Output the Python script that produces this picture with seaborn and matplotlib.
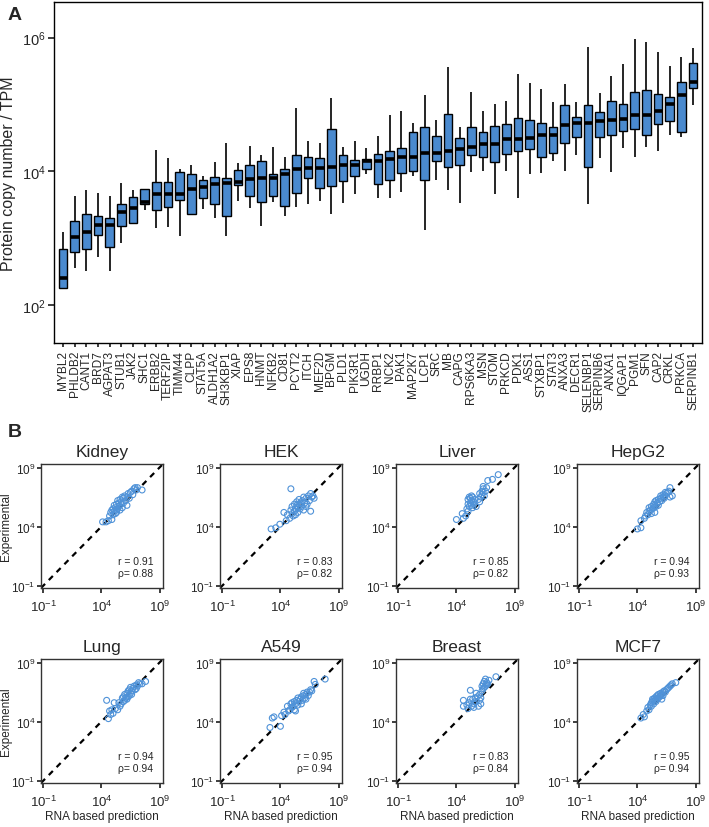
import numpy as np
import pandas as pd
import matplotlib
matplotlib.use("Agg")
import matplotlib.pyplot as plt
import seaborn as sns

# ---- panel A: per-gene box statistics (log10 of copy number / TPM)
genes = ["MYBL2", "PHLDB2", "CANT1", "BRD7", "AGPAT3", "STUB1", "JAK2", "SHC1",
         "ERBB2", "TERF2IP", "TIMM44", "CLPP", "STAT5A", "ALDH1A2", "SH3KBP1",
         "XIAP", "EPS8", "HNMT", "NFKB2", "CD81", "PCYT2", "ITCH", "MEF2D",
         "BPGM", "PLD1", "PIK3R1", "UGDH", "RRBP1", "NCK2", "PAK1", "MAP2K7",
         "LCP1", "SRC", "MB", "CAPG", "RPS6KA3", "MSN", "STOM", "PRKCD", "PDK1",
         "ASS1", "STXBP1", "STAT3", "ANXA3", "DECR1", "SELENBP1", "SERPINB6",
         "ANXA1", "IQGAP1", "PGM1", "SFN", "CAP2", "CRKL", "PRKCA", "SERPINB1"]
whisk_lo = [2.24, 2.56, 2.51, 2.73, 2.51, 2.94, 3.23, 3.43, 3.15, 3.17, 3.03,
            3.35, 3.44, 3.31, 3.03, 3.56, 3.46, 3.18, 3.54, 3.33, 3.47, 3.51,
            3.56, 3.37, 3.53, 3.66, 3.97, 3.60, 3.61, 3.70, 3.94, 3.12, 3.88,
            3.73, 3.53, 3.99, 4.00, 3.67, 4.01, 3.61, 3.96, 3.98, 4.16, 4.00,
            4.25, 3.51, 4.20, 3.99, 4.35, 4.21, 4.37, 4.31, 4.54, 4.51, 5.00]
q1 = [2.26, 2.80, 2.84, 3.05, 2.88, 3.18, 3.23, 3.51, 3.42, 3.47, 3.57, 3.37,
      3.60, 3.51, 3.34, 3.80, 3.64, 3.55, 3.63, 3.48, 3.68, 3.90, 3.75, 3.79,
      3.86, 3.94, 4.04, 3.81, 3.87, 3.98, 4.00, 3.87, 4.16, 4.06, 4.09, 4.25,
      4.21, 4.14, 4.26, 4.31, 4.34, 4.21, 4.27, 4.42, 4.52, 4.07, 4.52, 4.55,
      4.60, 4.63, 4.55, 4.71, 4.75, 4.59, 5.24]
median = [2.41, 3.02, 3.09, 3.20, 3.20, 3.40, 3.46, 3.55, 3.67, 3.67, 3.67,
          3.74, 3.77, 3.82, 3.83, 3.85, 3.89, 3.90, 3.91, 3.97, 4.03, 4.05,
          4.05, 4.06, 4.09, 4.10, 4.15, 4.15, 4.19, 4.21, 4.22, 4.27, 4.28,
          4.30, 4.34, 4.36, 4.41, 4.41, 4.48, 4.49, 4.50, 4.54, 4.55, 4.69,
          4.72, 4.73, 4.75, 4.77, 4.79, 4.85, 4.85, 4.91, 5.01, 5.14, 5.34]
q3 = [2.84, 3.26, 3.36, 3.34, 3.30, 3.52, 3.62, 3.74, 3.84, 3.85, 3.99, 3.97,
      3.88, 3.92, 3.91, 4.02, 4.10, 4.16, 3.97, 4.04, 4.24, 4.21, 4.20, 4.64,
      4.24, 4.17, 4.18, 4.26, 4.31, 4.35, 4.59, 4.66, 4.53, 4.86, 4.50, 4.67,
      4.59, 4.68, 4.71, 4.80, 4.77, 4.73, 4.67, 5.00, 4.81, 5.00, 4.89, 5.05,
      5.01, 5.18, 5.22, 5.16, 5.11, 5.33, 5.62]
whisk_hi = [3.10, 3.63, 3.73, 3.68, 3.64, 3.83, 3.73, 3.74, 4.32, 4.20, 4.04,
            4.10, 3.94, 4.14, 4.43, 4.12, 4.38, 4.24, 4.36, 4.21, 4.95, 4.45,
            4.42, 5.10, 4.36, 4.46, 4.35, 4.53, 4.85, 4.91, 4.73, 5.14, 4.77,
            5.56, 4.67, 5.19, 4.91, 5.01, 5.05, 5.46, 5.32, 5.23, 5.04, 5.30,
            5.04, 5.86, 5.17, 5.42, 5.60, 5.98, 5.94, 5.79, 5.57, 5.71, 5.84]

# ---- panel B: log10 RNA based prediction (x) vs experimental (y)
tissues = ["Kidney", "HEK", "Liver", "HepG2", "Lung", "A549", "Breast", "MCF7"]
pearson_r = [0.91, 0.83, 0.85, 0.94, 0.94, 0.95, 0.83, 0.95]
spearman_rho = [0.88, 0.82, 0.82, 0.93, 0.94, 0.94, 0.84, 0.94]

kidney_x = [4.1, 4.4, 4.6, 4.7, 4.8, 4.9, 5.0, 5.0, 5.1, 5.1, 5.2, 5.2, 5.3, 5.3,
            5.4, 5.4, 5.5, 5.5, 5.6, 5.6, 5.7, 5.7, 5.8, 5.9, 5.9, 6.0, 6.1, 6.2,
            6.3, 6.4, 6.5, 6.6, 6.7, 6.8, 6.9, 7.0, 7.1, 7.5, 4.9, 5.3, 5.8, 6.2]
kidney_y = [4.4, 4.4, 4.5, 4.9, 5.2, 4.6, 5.5, 5.0, 5.8, 5.3, 5.6, 5.1, 5.9, 5.4,
            6.2, 5.5, 5.7, 6.0, 5.4, 6.3, 5.9, 6.1, 5.6, 6.4, 6.0, 6.6, 6.2, 6.5,
            6.8, 6.4, 6.9, 7.0, 6.7, 7.2, 7.3, 7.1, 7.3, 7.1, 5.4, 5.2, 6.5, 5.8]
hek_x = [3.2, 3.6, 3.95, 4.3, 4.5, 4.6, 4.8, 4.9, 5.0, 5.0, 5.1, 5.2, 5.2, 5.3,
         5.3, 5.4, 5.4, 5.5, 5.5, 5.6, 5.6, 5.7, 5.7, 5.8, 5.9, 6.0, 6.0, 6.1,
         6.2, 6.3, 6.4, 6.5, 6.6, 6.7, 6.8, 6.9, 4.9, 5.8, 6.2, 6.6]
hek_y = [3.8, 3.9, 4.2, 5.2, 4.5, 5.0, 4.7, 5.4, 5.1, 5.7, 4.9, 5.3, 5.9, 5.5,
         5.0, 5.8, 6.1, 5.2, 5.6, 5.9, 6.3, 5.5, 6.0, 5.7, 6.2, 5.4, 6.5, 6.0,
         6.4, 5.9, 6.6, 6.2, 6.8, 6.5, 6.6, 6.4, 7.2, 6.0, 5.7, 5.3]
liver_x = [4.0, 4.6, 4.8, 4.5, 4.9, 5.0, 5.0, 5.1, 5.1, 5.2, 5.2, 5.3, 5.3, 5.4,
           5.4, 5.5, 5.5, 5.6, 5.7, 5.0, 5.3, 5.9, 6.0, 6.1, 6.2, 6.2, 6.3, 6.3,
           6.4, 6.5, 6.6, 6.0, 6.7, 7.1, 7.6, 6.3]
liver_y = [4.6, 4.7, 4.9, 5.1, 5.5, 5.9, 6.3, 5.7, 6.5, 6.0, 6.4, 5.8, 6.2, 6.5,
           5.6, 6.1, 5.9, 6.3, 5.7, 5.3, 6.6, 6.3, 6.8, 6.5, 7.0, 6.7, 7.2, 6.9,
           6.6, 7.0, 7.3, 6.1, 7.9, 8.0, 8.4, 7.4]
hepg2_x = [4.0, 4.3, 4.3, 4.6, 4.7, 4.8, 4.9, 5.0, 5.0, 5.1, 5.2, 5.2, 5.3, 5.4,
           5.4, 5.5, 5.5, 5.6, 5.6, 5.7, 5.8, 5.8, 5.9, 6.0, 6.0, 6.1, 6.2, 6.2,
           6.3, 6.4, 6.4, 6.5, 6.6, 6.7, 6.8, 7.0, 6.8, 5.5]
hepg2_y = [3.8, 3.9, 4.5, 4.7, 4.9, 5.2, 5.0, 5.3, 5.6, 5.4, 5.7, 5.1, 5.5, 5.9,
           5.6, 5.8, 6.1, 5.7, 6.2, 6.0, 5.8, 6.3, 6.1, 6.4, 6.6, 6.2, 6.5, 6.7,
           6.4, 6.6, 6.9, 6.8, 6.9, 7.0, 7.3, 6.6, 6.5, 5.2]
lung_x = [4.45, 4.6, 4.7, 4.8, 4.9, 5.0, 5.2, 5.4, 5.5, 5.6, 5.7, 5.8, 5.9, 6.0,
          6.0, 6.1, 6.2, 6.2, 6.3, 6.3, 6.4, 6.4, 6.5, 6.5, 6.6, 6.7, 6.8, 6.9,
          7.0, 7.1, 7.2, 7.3, 7.5, 7.8, 5.1, 5.9, 6.6, 7.0]
lung_y = [5.8, 4.25, 4.9, 4.6, 5.0, 4.7, 5.1, 5.0, 5.6, 5.3, 5.5, 6.0, 5.7, 5.8,
          6.3, 6.0, 5.9, 6.4, 6.1, 6.6, 6.2, 6.7, 6.4, 6.9, 6.6, 6.8, 7.0, 6.7,
          7.1, 7.0, 7.3, 7.2, 7.2, 7.4, 5.6, 6.1, 6.3, 6.8]
a549_x = [3.1, 3.3, 3.45, 4.0, 4.1, 4.3, 4.4, 4.6, 4.7, 4.8, 4.9, 5.0, 5.0, 5.1,
          5.2, 5.2, 5.3, 5.4, 5.5, 5.5, 5.6, 5.7, 5.8, 5.9, 6.0, 6.0, 6.1, 6.2,
          6.3, 6.4, 6.5, 6.6, 6.7, 6.9, 7.0, 7.85, 5.3, 5.8, 6.2]
a549_y = [3.5, 4.3, 4.4, 3.6, 4.5, 4.8, 4.6, 5.3, 4.9, 5.0, 5.5, 5.2, 5.6, 5.3,
          5.0, 5.7, 5.5, 5.8, 5.4, 6.0, 5.7, 5.9, 6.1, 5.8, 6.2, 6.4, 6.0, 6.3,
          6.5, 6.2, 6.5, 6.7, 6.6, 7.4, 7.15, 7.6, 4.9, 5.5, 5.9]
breast_x = [4.6, 4.6, 4.9, 5.0, 5.1, 5.2, 5.3, 5.4, 5.5, 5.5, 5.6, 5.7, 5.8, 5.9,
            6.0, 6.0, 6.1, 6.2, 6.2, 6.3, 6.3, 6.4, 6.4, 6.5, 6.5, 6.6, 6.7, 6.8,
            7.4, 5.2, 5.7, 6.1, 6.6]
breast_y = [5.8, 5.3, 5.4, 5.1, 5.6, 6.65, 5.3, 5.9, 5.5, 5.2, 6.0, 5.7, 6.1, 5.3,
            5.8, 6.3, 6.0, 6.6, 7.0, 6.8, 7.2, 6.9, 7.4, 7.0, 7.6, 7.3, 7.2, 7.5,
            7.8, 5.9, 6.4, 5.5, 7.1]
mcf7_x = [4.3, 4.5, 4.6, 4.8, 4.9, 5.0, 5.1, 5.2, 5.2, 5.3, 5.4, 5.4, 5.5, 5.5,
          5.6, 5.6, 5.7, 5.7, 5.8, 5.8, 5.9, 6.0, 6.0, 6.1, 6.2, 6.2, 6.3, 6.4,
          6.5, 6.6, 6.7, 6.8, 6.9, 7.0, 7.3, 5.3, 6.1]
mcf7_y = [4.3, 4.6, 4.4, 4.9, 5.2, 5.0, 5.4, 5.6, 5.3, 5.7, 5.9, 5.5, 5.8, 6.0,
          5.7, 6.1, 5.9, 6.2, 6.0, 6.3, 6.1, 6.2, 6.4, 6.3, 6.5, 6.2, 6.6, 6.5,
          6.7, 6.8, 6.9, 7.0, 7.1, 7.2, 7.3, 5.9, 5.9]

scatter_x = [kidney_x, hek_x, liver_x, hepg2_x, lung_x, a549_x, breast_x, mcf7_x]
scatter_y = [kidney_y, hek_y, liver_y, hepg2_y, lung_y, a549_y, breast_y, mcf7_y]

BOX_COLOR = "#4A8ACF"
DOT_COLOR = "#4F92D8"

sns.set_theme(style="ticks")
plt.rcParams["font.family"] = ["Liberation Sans", "DejaVu Sans"]
plt.rcParams["mathtext.fontset"] = "custom"
plt.rcParams["mathtext.rm"] = "Liberation Sans"
plt.rcParams["mathtext.it"] = "Liberation Sans:italic"
plt.rcParams["mathtext.bf"] = "Liberation Sans:bold"

W, H = 709, 828
fig = plt.figure(figsize=(W / 100, H / 100), dpi=100)


def add_ax(left, top, right, bottom):
    return fig.add_axes([left / W, 1 - bottom / H, (right - left) / W, (bottom - top) / H])


# ---------------- Panel A ----------------
rows = []
for i, g in enumerate(genes):
    for v in (whisk_lo[i], q1[i], median[i], q3[i], whisk_hi[i]):
        rows.append({"gene": g, "value": 10 ** v})
df = pd.DataFrame(rows)

axA = add_ax(54, 3, 702, 344)
sns.boxplot(
    data=df, x="gene", y="value", order=genes, ax=axA,
    whis=(0, 100), width=0.75, color=BOX_COLOR, saturation=1,
    linecolor="black", linewidth=1.0, showcaps=False, fliersize=0,
    medianprops={"linewidth": 2.6, "color": "black"},
    whiskerprops={"linewidth": 1.2},
    log_scale=True,
)
axA.set_ylim(10 ** 1.44, 10 ** 6.53)
axA.set_xlim(-0.77, len(genes) - 1 + 0.77)
axA.set_yticks([1e2, 1e4, 1e6])
axA.set_yticklabels([r"$10^{2}$", r"$10^{4}$", r"$10^{6}$"], fontsize=10.5)
axA.yaxis.set_minor_locator(matplotlib.ticker.NullLocator())
axA.tick_params(axis="x", labelrotation=90, labelsize=8.6, length=3, pad=2)
axA.tick_params(axis="y", length=4, pad=2)
axA.set_xlabel("")
axA.set_ylabel("Protein copy number / TPM", fontsize=11.5, labelpad=4)
for sp in axA.spines.values():
    sp.set_visible(True)
    sp.set_linewidth(1.0)
    sp.set_color("black")
fig.text(8 / W, 1 - 16 / H, "A", fontsize=14, fontweight="bold", va="center")

# ---------------- Panel B ----------------
lims = (10 ** -1.2, 10 ** 9.3)
lefts = [41, 220, 396, 577]
tops = [465, 660]
for k, name in enumerate(tissues):
    r, c = divmod(k, 4)
    ax = add_ax(lefts[c], tops[r], lefts[c] + 122, tops[r] + 124)
    ax.plot(lims, lims, color="black", linestyle="--", linewidth=1.6,
            dashes=(2.6, 2.4), zorder=1)
    sns.scatterplot(
        x=10 ** np.array(scatter_x[k]), y=10 ** np.array(scatter_y[k]), ax=ax,
        s=18, facecolor="none", edgecolor=DOT_COLOR, linewidth=0.8, zorder=3,
    )
    ax.set_xscale("log")
    ax.set_yscale("log")
    ax.set_xlim(lims)
    ax.set_ylim(lims)
    ticks = [1e-1, 1e4, 1e9]
    tlabels = [r"$10^{-1}$", r"$10^{4}$", r"$10^{9}$"]
    ax.set_xticks(ticks)
    ax.set_xticklabels(tlabels, fontsize=9.5)
    ax.set_yticks(ticks)
    ax.set_yticklabels(tlabels, fontsize=8.5)
    ax.xaxis.set_minor_locator(matplotlib.ticker.NullLocator())
    ax.yaxis.set_minor_locator(matplotlib.ticker.NullLocator())
    ax.tick_params(axis="x", length=3.5, pad=4)
    ax.tick_params(axis="y", length=3, pad=1)
    for sp in ax.spines.values():
        sp.set_visible(True)
        sp.set_linewidth(1.0)
        sp.set_color("#333333")
    ax.set_title(name, fontsize=12.5, pad=6)
    ax.text(0.92, 0.22, f"r = {pearson_r[k]:.2f}", transform=ax.transAxes,
            ha="right", va="center", fontsize=7.5)
    ax.text(0.92, 0.12, f"\u03c1= {spearman_rho[k]:.2f}", transform=ax.transAxes,
            ha="right", va="center", fontsize=7.5)
    if c == 0:
        ax.set_ylabel("Experimental", fontsize=8.5)
        ax.yaxis.set_label_coords(-0.235, 0.5)
    if r == 1:
        ax.set_xlabel("RNA based prediction", fontsize=8.5, labelpad=1)

fig.text(8 / W, 1 - 433 / H, "B", fontsize=14, fontweight="bold", va="center")

fig.savefig("out.png", dpi=100)
plt.close(fig)
